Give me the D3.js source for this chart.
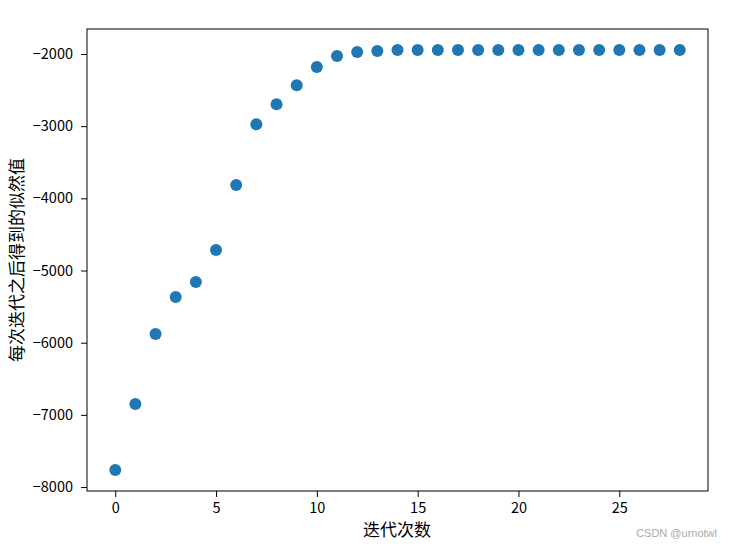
<!DOCTYPE html>
<html>
<head>
<meta charset="utf-8">
<script src="https://cdn.jsdelivr.net/npm/d3@7"></script>
<style>
  body { margin: 0; background: #fff; }
  text { font-family: "Noto Sans CJK SC", "DejaVu Sans", sans-serif; }
</style>
</head>
<body>
<svg id="chart" width="733" height="547"></svg>
<script>
// likelihood after each iteration
const iterations = d3.range(29);
const likelihood = [
    -7764, -6850, -5880, -5367, -5160, -4716, -3815, -2975, -2697, -2434,
    -2180, -2028, -1972, -1958, -1946, -1945, -1945, -1945, -1945, -1945,
    -1945, -1945, -1945, -1945, -1945, -1945, -1945, -1945, -1945
];
const xTicks = [0, 5, 10, 15, 20, 25];
const yTicks = [-8000, -7000, -6000, -5000, -4000, -3000, -2000];

const data = iterations.map((d, i) => ({ x: d, y: likelihood[i] }));

const plotLeft = 87, plotRight = 708, plotTop = 29, plotBottom = 491;

// matplotlib style 5% margins
const pad = (ext) => {
    const m = (ext[1] - ext[0]) * 0.05;
    return [ext[0] - m, ext[1] + m];
};

const x = d3.scaleLinear()
    .domain(pad(d3.extent(data, d => d.x)))
    .range([plotLeft, plotRight]);
const y = d3.scaleLinear()
    .domain(pad(d3.extent(data, d => d.y)))
    .range([plotBottom, plotTop]);

const svg = d3.select('#chart');

svg.append('g')
    .selectAll('circle')
    .data(data)
    .join('circle')
    .attr('cx', d => x(d.x))
    .attr('cy', d => y(d.y))
    .attr('r', 6)
    .attr('fill', '#1f77b4');

const xAxis = svg.append('g')
    .attr('transform', `translate(0,${plotBottom})`)
    .call(d3.axisBottom(x).tickValues(xTicks).tickSize(6).tickPadding(6).tickFormat(d3.format('d')));
const yAxis = svg.append('g')
    .attr('transform', `translate(${plotLeft},0)`)
    .call(d3.axisLeft(y).tickValues(yTicks).tickSize(6).tickPadding(8).tickFormat(d3.format('d')));

[xAxis, yAxis].forEach(g => {
    g.select('.domain').remove();
    g.selectAll('line').attr('stroke', '#000').attr('stroke-width', 1);
    g.selectAll('text')
        .attr('fill', '#000')
        .style('font-size', '14.5px')
        .style('font-family', '"Noto Sans CJK SC", "DejaVu Sans", sans-serif');
});

// frame
svg.append('rect')
    .attr('x', plotLeft)
    .attr('y', plotTop)
    .attr('width', plotRight - plotLeft)
    .attr('height', plotBottom - plotTop)
    .attr('fill', 'none')
    .attr('stroke', '#000')
    .attr('stroke-width', 1);

svg.append('text')
    .attr('x', 397)
    .attr('y', 536)
    .attr('text-anchor', 'middle')
    .style('font-size', '17px')
    .text('迭代次数');

svg.append('text')
    .attr('transform', `translate(23,260) rotate(-90)`)
    .attr('text-anchor', 'middle')
    .style('font-size', '17px')
    .text('每次迭代之后得到的似然值');

// watermark
svg.append('text')
    .attr('x', 717)
    .attr('y', 537)
    .attr('text-anchor', 'end')
    .attr('fill', '#aaa')
    .style('font-size', '11px')
    .style('font-family', '"Liberation Sans", Arial, sans-serif')
    .text('CSDN @urnotwl');
</script>
</body>
</html>
